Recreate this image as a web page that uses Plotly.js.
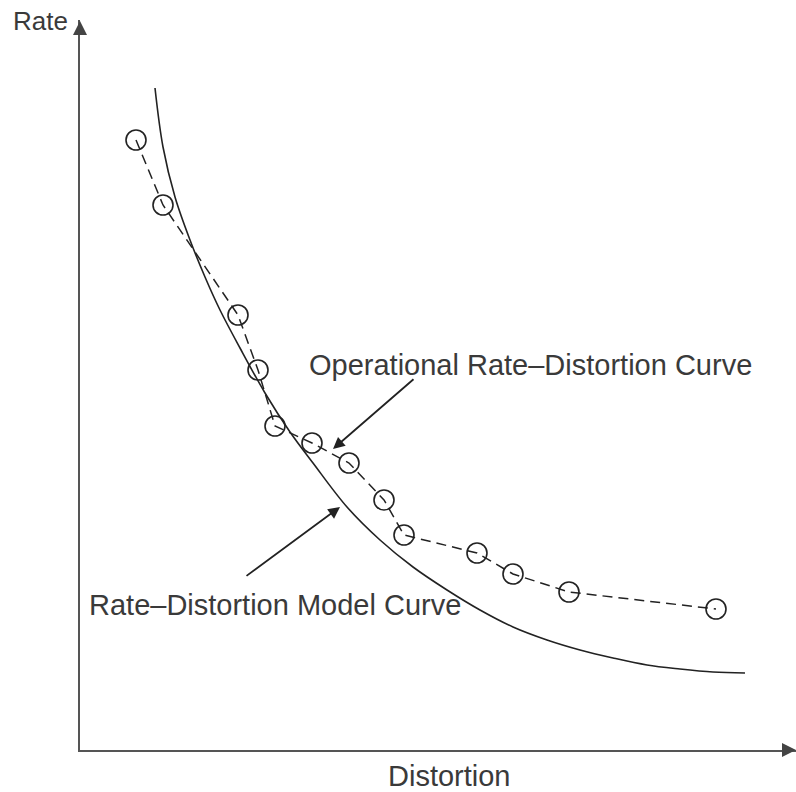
<!DOCTYPE html>
<html>
<head>
<meta charset="utf-8">
<script src="https://cdn.plot.ly/plotly-3.0.1.min.js"></script>
<style>html,body{margin:0;padding:0;background:#fff;}</style>
</head>
<body>
<div id="chart" style="width:796px;height:792px;"></div>
<script>
// Operational rate-distortion points (distortion, rate) in arbitrary units
const opDistortion = [56, 83, 158, 178, 195, 232, 269, 304, 324, 397, 433, 489, 636];
const opRate       = [610, 545, 435, 380, 324, 307, 287, 250, 215, 197, 176, 158, 141];

// Rate-distortion model curve samples
const modelDistortion = [75, 83, 95, 110, 125, 140, 160, 185, 210, 233, 267, 300, 333, 367, 400, 433, 467, 500, 533, 567, 600, 633, 665];
const modelRate       = [662, 603, 553, 510, 473, 440, 402, 357, 318, 287, 243, 210, 183, 160, 140, 123, 110, 100, 92, 85, 81, 78, 77];

// Label texts
const xTitle = "Distortion";
const yTitle = "Rate";
const opLabel = "Operational Rate\u2013Distortion Curve";
const modelLabel = "Rate\u2013Distortion Model Curve";

// Annotation arrows (tip and tail, data units)
const opArrowTip = [253, 301], opArrowTail = [335, 372];
const modelArrowTip = [260, 243], modelArrowTail = [165, 173];

const FONT = "Liberation Sans, Arial, Helvetica, sans-serif";
const TXT = "#3a3a3a";
const INK = "#222";

const traces = [
  {
    x: modelDistortion, y: modelRate, type: "scatter", mode: "lines",
    line: {color: INK, width: 1.6, shape: "spline", smoothing: 1.0},
    hoverinfo: "skip", showlegend: false
  },
  {
    x: opDistortion, y: opRate, type: "scatter", mode: "lines+markers",
    line: {color: INK, width: 1.5, dash: "10px,6px"},
    marker: {symbol: "circle-open", size: 20, color: INK, line: {width: 1.6, color: INK}},
    hoverinfo: "skip", showlegend: false
  }
];

const txtFont = {family: FONT, size: 29, color: TXT};

const layout = {
  width: 796, height: 792,
  margin: {l: 80, r: 0, t: 20, b: 42, pad: 0},
  paper_bgcolor: "#fff", plot_bgcolor: "#fff",
  showlegend: false,
  xaxis: {range: [0, 716], showgrid: false, zeroline: false, showticklabels: false, ticks: "",
          showline: true, linecolor: "#555", linewidth: 2, fixedrange: true},
  yaxis: {range: [0, 730], showgrid: false, zeroline: false, showticklabels: false, ticks: "",
          showline: true, linecolor: "#555", linewidth: 2, fixedrange: true},
  annotations: [
    // axis arrowheads
    {x: 0, y: 729, xref: "x", yref: "y", ax: 0, ay: 14, showarrow: true, arrowhead: 2,
     arrowsize: 1.4, arrowwidth: 2, arrowcolor: "#444", text: ""},
    {x: 716, y: 0, xref: "x", yref: "y", ax: -14, ay: 0, showarrow: true, arrowhead: 2,
     arrowsize: 1.4, arrowwidth: 2, arrowcolor: "#444", text: ""},
    // axis titles
    {x: -0.0965, y: 0.998, xref: "paper", yref: "paper", xanchor: "left", yanchor: "middle", showarrow: false,
     text: yTitle, font: {family: FONT, size: 26, color: TXT}},
    {x: 0.5154, y: -0.036, xref: "paper", yref: "paper", xanchor: "center", yanchor: "middle", showarrow: false,
     text: xTitle, font: txtFont, borderpad: 0},
    // curve labels
    {x: 227, y: 385, xref: "x", yref: "y", xanchor: "left", yanchor: "middle", showarrow: false,
     text: opLabel, font: txtFont},
    {x: 7, y: 145, xref: "x", yref: "y", xanchor: "left", yanchor: "middle", showarrow: false,
     text: modelLabel, font: txtFont},
    // pointer arrows
    {x: opArrowTip[0], y: opArrowTip[1], xref: "x", yref: "y", axref: "x", ayref: "y",
     ax: opArrowTail[0], ay: opArrowTail[1], showarrow: true, arrowhead: 2, arrowsize: 1.3,
     arrowwidth: 1.8, arrowcolor: INK, text: ""},
    {x: modelArrowTip[0], y: modelArrowTip[1], xref: "x", yref: "y", axref: "x", ayref: "y",
     ax: modelArrowTail[0], ay: modelArrowTail[1], showarrow: true, arrowhead: 2, arrowsize: 1.3,
     arrowwidth: 1.8, arrowcolor: INK, text: ""}
  ]
};

Plotly.newPlot("chart", traces, layout, {displayModeBar: false, staticPlot: true});
</script>
</body>
</html>
